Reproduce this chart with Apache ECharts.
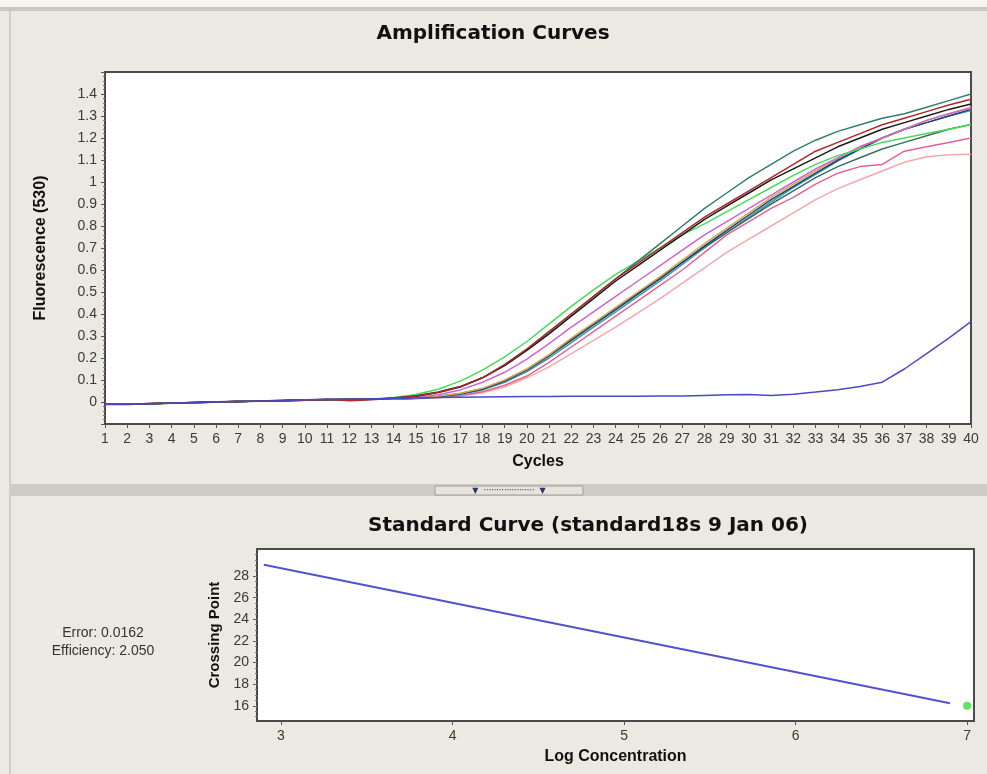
<!DOCTYPE html>
<html>
<head>
<meta charset="utf-8">
<script src="https://cdn.jsdelivr.net/npm/echarts@6/dist/echarts.min.js"></script>
<style>
  html, body { margin: 0; padding: 0; background: #ece9e2; }
  #chart { width: 987px; height: 774px; }
</style>
</head>
<body>
<div id="chart"></div>
<script>
// amplification curves: fluorescence per cycle
var cycles = [1,2,3,4,5,6,7,8,9,10,11,12,13,14,15,16,17,18,19,20,21,22,23,24,25,26,27,28,29,30,31,32,33,34,35,36,37,38,39,40];

var sampleA  = [-0.01,-0.01,-0.008,-0.004,-0.002,0,0.002,0.004,0.006,0.009,0.01,0.011,0.013,0.018,0.028,0.045,0.07,0.11,0.17,0.24,0.32,0.4,0.48,0.56,0.64,0.72,0.8,0.88,0.95,1.02,1.08,1.14,1.19,1.23,1.26,1.29,1.31,1.34,1.37,1.4];
var sampleR  = [-0.011,-0.01,-0.007,-0.005,-0.002,0,0.001,0.004,0.007,0.008,0.012,0.006,0.01,0.017,0.027,0.044,0.07,0.11,0.17,0.24,0.32,0.4,0.48,0.56,0.63,0.7,0.77,0.84,0.9,0.96,1.02,1.08,1.14,1.18,1.22,1.26,1.29,1.32,1.35,1.376];
var sampleK  = [-0.01,-0.011,-0.008,-0.006,-0.002,0.001,0.002,0.003,0.006,0.009,0.011,0.012,0.012,0.017,0.026,0.043,0.068,0.11,0.165,0.235,0.31,0.39,0.47,0.55,0.62,0.69,0.76,0.83,0.89,0.95,1.01,1.06,1.11,1.16,1.2,1.24,1.27,1.3,1.33,1.355];
var sampleG  = [-0.01,-0.01,-0.009,-0.005,-0.003,0,0.002,0.005,0.006,0.009,0.011,0.012,0.014,0.02,0.034,0.058,0.095,0.145,0.205,0.275,0.355,0.435,0.51,0.58,0.64,0.7,0.76,0.81,0.865,0.92,0.975,1.03,1.08,1.12,1.15,1.18,1.2,1.22,1.24,1.26];
var sampleM  = [-0.01,-0.01,-0.008,-0.005,-0.003,-0.001,0.002,0.004,0.006,0.008,0.01,0.011,0.012,0.015,0.021,0.033,0.055,0.09,0.135,0.195,0.265,0.34,0.41,0.48,0.55,0.62,0.69,0.76,0.82,0.88,0.94,1.0,1.06,1.11,1.16,1.2,1.24,1.28,1.31,1.335];
var sampleO  = [-0.01,-0.009,-0.008,-0.005,-0.003,0,0.002,0.004,0.005,0.008,0.01,0.011,0.012,0.014,0.018,0.026,0.04,0.062,0.1,0.15,0.215,0.29,0.36,0.43,0.5,0.57,0.645,0.72,0.79,0.86,0.93,0.99,1.05,1.11,1.16,1.2,1.24,1.28,1.31,1.34];
var sampleN  = [-0.01,-0.01,-0.007,-0.006,-0.002,0,0.003,0.005,0.008,0.01,0.009,0.011,0.013,0.014,0.017,0.024,0.037,0.058,0.095,0.145,0.21,0.28,0.35,0.42,0.49,0.56,0.635,0.71,0.78,0.85,0.92,0.98,1.04,1.1,1.15,1.2,1.24,1.27,1.3,1.33];
var sampleB  = [-0.01,-0.01,-0.008,-0.005,-0.003,0,0.002,0.004,0.006,0.008,0.01,0.011,0.012,0.014,0.018,0.025,0.039,0.06,0.098,0.148,0.212,0.285,0.355,0.425,0.495,0.565,0.635,0.705,0.77,0.835,0.9,0.96,1.02,1.07,1.11,1.15,1.18,1.21,1.24,1.262];
var sampleT  = [-0.01,-0.01,-0.008,-0.005,-0.003,0,0.002,0.004,0.006,0.008,0.01,0.011,0.012,0.014,0.017,0.023,0.035,0.055,0.09,0.138,0.2,0.27,0.34,0.41,0.48,0.55,0.625,0.7,0.77,0.84,0.91,0.975,1.035,1.095,1.15,1.2,1.24,1.27,1.3,1.325];
var sampleP  = [-0.01,-0.01,-0.008,-0.005,-0.003,0,0.002,0.004,0.006,0.008,0.01,0.011,0.012,0.013,0.016,0.021,0.03,0.047,0.076,0.118,0.18,0.25,0.32,0.39,0.46,0.53,0.6,0.68,0.76,0.82,0.88,0.93,0.99,1.04,1.07,1.08,1.14,1.16,1.18,1.2];
var sampleLP = [-0.01,-0.01,-0.008,-0.005,-0.003,0,0.002,0.004,0.006,0.008,0.01,0.011,0.012,0.013,0.015,0.019,0.027,0.042,0.068,0.11,0.16,0.22,0.28,0.34,0.405,0.47,0.54,0.61,0.68,0.74,0.8,0.86,0.92,0.97,1.01,1.05,1.09,1.115,1.124,1.126];
var sampleLate = [-0.01,-0.01,-0.008,-0.005,-0.003,0,0.002,0.004,0.006,0.01,0.012,0.012,0.014,0.016,0.018,0.02,0.022,0.023,0.024,0.025,0.025,0.026,0.026,0.026,0.026,0.027,0.027,0.03,0.033,0.034,0.03,0.035,0.045,0.056,0.07,0.09,0.15,0.22,0.29,0.365];

var fluorTicks = [0,0.1,0.2,0.3,0.4,0.5,0.6,0.7,0.8,0.9,1,1.1,1.2,1.3,1.4];

// standard curve
var logConc = [2.9, 6.9];
var crossingPoint = [29.05, 16.25];
var stdPointX = [7.0];
var stdPointY = [16.0];
var logTicks = [3,4,5,6,7];
var cpTicks = [16,18,20,22,24,26,28];
var cpMinorTicks = [15,15.5,16,16.5,17,17.5,18,18.5,19,19.5,20,20.5,21,21.5,22,22.5,23,23.5,24,24.5,25,25.5,26,26.5,27,27.5,28,28.5,29,29.5,30];

var curves = [
  { data: sampleLP, color: '#f5a8a8' },
  { data: sampleP, color: '#e8628e' },
  { data: sampleT, color: '#3a9aa6' },
  { data: sampleB, color: '#3a6e64' },
  { data: sampleN, color: '#24407a' },
  { data: sampleO, color: '#d4a84a' },
  { data: sampleM, color: '#cc66cc' },
  { data: sampleG, color: '#44dd55' },
  { data: sampleA, color: '#2e8070' },
  { data: sampleK, color: '#1a1a1a' },
  { data: sampleR, color: '#b02828' },
  { data: sampleLate, color: '#4a4ac8' }
];

var dom = document.getElementById('chart');
var myChart = echarts.init(dom);

var labelFont = { color: '#3a3a3a', fontSize: 14, fontFamily: 'Liberation Sans' };
function nameFont(size) {
  return { color: '#111', fontSize: size, fontWeight: 'bold', fontFamily: 'Liberation Sans' };
}
var titleFont = 'bold 20px "DejaVu Sans"';

var series = curves.map(function (c) {
  return {
    type: 'line',
    xAxisIndex: 0,
    yAxisIndex: 0,
    showSymbol: false,
    symbol: 'none',
    lineStyle: { color: c.color, width: 1.5 },
    data: cycles.map(function (x, i) { return [x, c.data[i]]; })
  };
});

series.push({
  type: 'line',
  xAxisIndex: 1,
  yAxisIndex: 1,
  symbol: 'none',
  lineStyle: { color: '#5252cc', width: 2 },
  data: logConc.map(function (x, i) { return [x, crossingPoint[i]]; })
});
series.push({
  type: 'scatter',
  xAxisIndex: 1,
  yAxisIndex: 1,
  symbolSize: 8,
  itemStyle: { color: '#33dd33' },
  data: stdPointX.map(function (x, i) { return [x, stdPointY[i]]; })
});

option = {
  backgroundColor: '#ece9e2',
  animation: false,
  grid: [
    { left: 105, right: 16, top: 72, height: 352, show: true, backgroundColor: '#fff', borderColor: '#4a4a4a', borderWidth: 2 },
    { left: 257, right: 13, top: 549, height: 172, show: true, backgroundColor: '#fff', borderColor: '#4a4a4a', borderWidth: 2 }
  ],
  xAxis: [
    {
      type: 'value', gridIndex: 0, min: 1, max: 40, interval: 1,
      name: 'Cycles', nameLocation: 'middle', nameGap: 30, nameTextStyle: nameFont(16),
      axisLine: { onZero: false, lineStyle: { color: '#4a4a4a', width: 2 } },
      axisTick: { show: true, length: 4, lineStyle: { color: '#555' } },
      axisLabel: labelFont,
      splitLine: { show: false }
    },
    {
      type: 'value', gridIndex: 1, min: 2.86, max: 7.04,
      name: 'Log Concentration', nameLocation: 'middle', nameGap: 28, nameTextStyle: nameFont(16),
      axisLine: { onZero: false, lineStyle: { color: '#4a4a4a', width: 2 } },
      axisTick: { show: true, length: 4, customValues: logTicks, lineStyle: { color: '#555' } },
      axisLabel: Object.assign({ customValues: logTicks }, labelFont),
      splitLine: { show: false }
    }
  ],
  yAxis: [
    {
      type: 'value', gridIndex: 0, min: -0.1, max: 1.5, interval: 0.1,
      name: 'Fluorescence (530)', nameLocation: 'middle', nameGap: 56, nameTextStyle: nameFont(16),
      axisLine: { show: true, onZero: false, lineStyle: { color: '#4a4a4a', width: 2 } },
      axisTick: { show: true, length: 4, lineStyle: { color: '#555' } },
      minorTick: { show: true, splitNumber: 5, length: 2, lineStyle: { color: '#777' } },
      axisLabel: Object.assign({
        formatter: function (v) {
          var r = Math.round(v * 10) / 10;
          return fluorTicks.indexOf(r) >= 0 ? String(r) : '';
        }
      }, labelFont),
      splitLine: { show: false }
    },
    {
      type: 'value', gridIndex: 1, min: 14.6, max: 30.5,
      name: 'Crossing Point', nameLocation: 'middle', nameGap: 30, nameTextStyle: nameFont(15),
      axisLine: { show: true, onZero: false, lineStyle: { color: '#4a4a4a', width: 2 } },
      axisTick: { show: true, length: 4, customValues: cpTicks, lineStyle: { color: '#555' } },
      axisLabel: Object.assign({ customValues: cpTicks }, labelFont),
      splitLine: { show: false }
    },
    {
      type: 'value', gridIndex: 1, min: 14.6, max: 30.5, position: 'left',
      axisLine: { show: false },
      axisTick: { show: true, length: 2, customValues: cpMinorTicks, lineStyle: { color: '#777' } },
      axisLabel: { show: false },
      splitLine: { show: false }
    }
  ],
  graphic: [
    { type: 'rect', shape: { x: 0, y: 0, width: 987, height: 7 }, style: { fill: '#f6f5f2' }, silent: true },
    { type: 'rect', shape: { x: 0, y: 7, width: 987, height: 4 }, style: { fill: '#c9c6bf' }, silent: true },
    { type: 'rect', shape: { x: 9, y: 11, width: 2, height: 763 }, style: { fill: '#d2cfc8' }, silent: true },
    { type: 'rect', shape: { x: 11, y: 484, width: 976, height: 12 }, style: { fill: '#cfccc5' }, silent: true },
    { type: 'rect', shape: { x: 435, y: 486, width: 148, height: 9 }, style: { fill: '#e6e3dc', stroke: '#a09d96', lineWidth: 1 }, silent: true },
    { type: 'text', x: 509, y: 491, silent: true,
      style: { text: '\u25BC  \u00B7\u00B7\u00B7\u00B7\u00B7\u00B7\u00B7\u00B7\u00B7\u00B7\u00B7\u00B7\u00B7\u00B7\u00B7\u00B7\u00B7\u00B7\u00B7\u00B7  \u25BC', fill: '#2a3570', font: '8px "DejaVu Sans"', textAlign: 'center', textVerticalAlign: 'middle' } },
    { type: 'text', x: 493, y: 34, silent: true,
      style: { text: 'Amplification Curves', fill: '#111', font: titleFont, textAlign: 'center', textVerticalAlign: 'middle' } },
    { type: 'text', x: 588, y: 526, silent: true,
      style: { text: 'Standard Curve (standard18s 9 Jan 06)', fill: '#111', font: titleFont, textAlign: 'center', textVerticalAlign: 'middle' } },
    { type: 'text', x: 103, y: 642, silent: true,
      style: { text: 'Error: 0.0162\nEfficiency: 2.050', fill: '#333', font: '14px "Liberation Sans"', lineHeight: 18, textAlign: 'center', textVerticalAlign: 'middle' } }
  ],
  series: series
};

if (option && typeof option === 'object') {
  myChart.setOption(option, true);
}
</script>
</body>
</html>
